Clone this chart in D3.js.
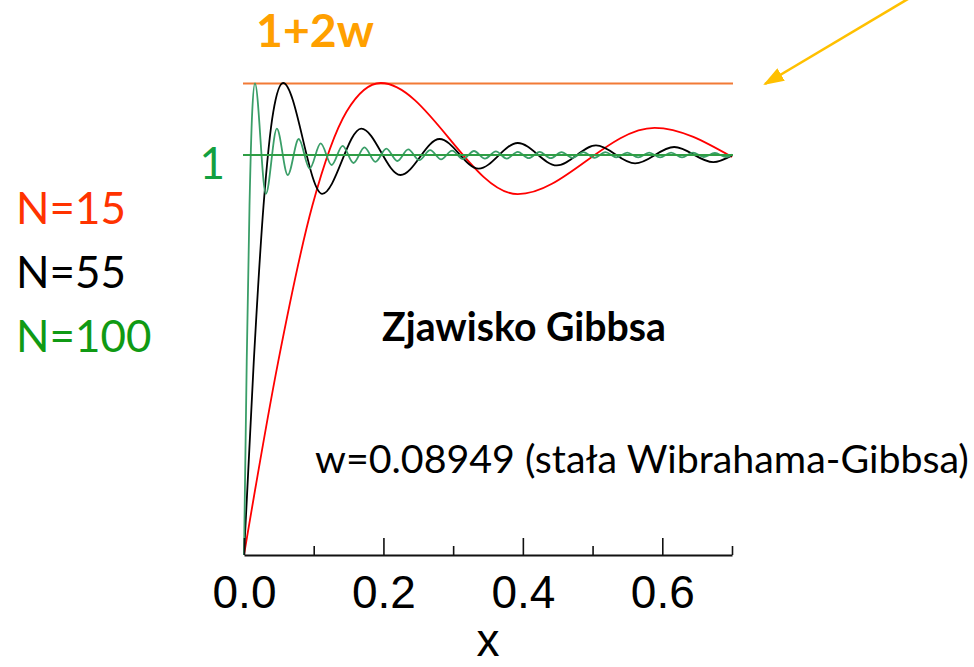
<!DOCTYPE html>
<html>
<head>
<meta charset="utf-8">
<script src="https://cdn.jsdelivr.net/npm/d3@7"></script>
<style>
  html, body { margin: 0; padding: 0; background: #fff; }
  svg { display: block; }
</style>
</head>
<body>
<svg id="chart" width="974" height="667"></svg>
<script>
// Partial Fourier sums of a square wave near the jump (Gibbs phenomenon).
// Points are the start of the rise and the successive extrema of each sum.
const xN15  = [0, 0.049, 0.098, 0.147, 0.1963, 0.3927, 0.5890, 0.7000];
const yN15  = [0, 0.483, 0.873, 1.108, 1.180, 0.902, 1.068, 0.995];

const xN55  = [0, 0.014, 0.028, 0.042, 0.0561, 0.1122, 0.1683, 0.2244, 0.2805, 0.3366,
               0.3927, 0.4488, 0.5049, 0.5610, 0.6171, 0.6732, 0.7000];
const yN55  = [0, 0.483, 0.873, 1.108, 1.180, 0.903, 1.066, 0.950, 1.040, 0.966,
               1.030, 0.974, 1.024, 0.979, 1.020, 0.982, 0.999];

const xN100 = [0, 0.0039, 0.0079, 0.0118, 0.0157, 0.0314, 0.0471, 0.0628, 0.0785, 0.0942,
               0.1100, 0.1257, 0.1414, 0.1571, 0.1728, 0.1885, 0.2042, 0.2199, 0.2356, 0.2513,
               0.2670, 0.2827, 0.2985, 0.3142, 0.3299, 0.3456, 0.3613, 0.3770, 0.3927, 0.4084,
               0.4241, 0.4398, 0.4555, 0.4712, 0.4869, 0.5027, 0.5184, 0.5341, 0.5498, 0.5655,
               0.5812, 0.5969, 0.6126, 0.6283, 0.6440, 0.6597, 0.6754, 0.6912, 0.7000];
const yN100 = [0, 0.483, 0.873, 1.108, 1.179, 0.903, 1.066, 0.950, 1.040, 0.966,
               1.029, 0.975, 1.023, 0.980, 1.019, 0.983, 1.016, 0.985, 1.014, 0.987,
               1.012, 0.989, 1.011, 0.990, 1.010, 0.991, 1.009, 0.991, 1.008, 0.992,
               1.008, 0.992, 1.007, 0.993, 1.007, 0.993, 1.007, 0.994, 1.006, 0.994,
               1.006, 0.994, 1.006, 0.994, 1.006, 0.995, 1.005, 0.995, 1.001];

const w = 0.08949;                       // Wilbraham–Gibbs constant
const refLevels = [1, 1 + 2 * w];        // limit and overshoot level
const xTicks = [0, 0.1, 0.2, 0.3, 0.4, 0.5, 0.6, 0.7];
const xTickLabels = ["0.0", "", "0.2", "", "0.4", "", "0.6", ""];
const legendLabels = ["N=15", "N=55", "N=100"];

const svg = d3.select("#chart");

const x = d3.scaleLinear().domain([0, 0.7]).range([244, 732]);
const y = d3.scaleLinear().domain([0, 1]).range([555, 155]);

const CAL = "Lato, 'Open Sans', sans-serif";
const ARIAL = "'Liberation Sans', Arial, sans-serif";

// overshoot level
svg.append("line")
  .attr("x1", x(0) - 1).attr("x2", x(0.7) + 1)
  .attr("y1", y(refLevels[1])).attr("y2", y(refLevels[1]))
  .attr("stroke", "#f27a36").attr("stroke-width", 2);

// curves
const line = d3.line().x(d => x(d[0])).y(d => y(d[1])).curve(d3.curveMonotoneX);
const series = [
  { xs: xN15,  ys: yN15,  color: "#ff0000" },
  { xs: xN55,  ys: yN55,  color: "#000000" },
  { xs: xN100, ys: yN100, color: "#3a9e68" }
];
series.forEach(s => {
  svg.append("path")
    .datum(s.xs.map((v, i) => [v, s.ys[i]]))
    .attr("d", line)
    .attr("fill", "none")
    .attr("stroke", s.color)
    .attr("stroke-width", 1.8)
    .attr("stroke-linejoin", "round");
});

// limit level
svg.append("line")
  .attr("x1", x(0) - 1).attr("x2", x(0.7) + 1)
  .attr("y1", y(refLevels[0])).attr("y2", y(refLevels[0]))
  .attr("stroke", "#2f9e45").attr("stroke-width", 2);

// x axis with inward ticks
const axis = d3.axisBottom(x)
  .tickValues(xTicks)
  .tickSizeInner(-9)
  .tickSizeOuter(0)
  .tickFormat((d, i) => xTickLabels[i]);

const gx = svg.append("g")
  .attr("transform", `translate(0,${y(0)})`)
  .call(axis);
gx.select(".domain").attr("stroke", "#111").attr("stroke-width", 2);
gx.selectAll(".tick line")
  .attr("stroke", "#111").attr("stroke-width", 1.6)
  .attr("y2", (d, i) => xTickLabels[i] ? -17 : -9);
gx.selectAll(".tick text")
  .attr("y", 53).attr("dy", 0)
  .attr("fill", "#000")
  .style("font-family", ARIAL)
  .style("font-size", "46px");

svg.append("text")
  .attr("x", x(0.35)).attr("y", 656)
  .attr("text-anchor", "middle")
  .style("font-family", ARIAL).style("font-size", "46px")
  .text("x");

// scale a text element's font so that it spans the given width
function fitWidth(sel, width) {
  const bw = sel.node().getBBox().width;
  const fs = parseFloat(sel.style("font-size"));
  const nfs = fs * width / bw;
  sel.style("font-size", nfs + "px");
  return nfs;
}

// overshoot label
const overshootLabel = svg.append("text")
  .attr("x", 256).attr("y", 47)
  .style("font-family", CAL).style("font-weight", "bold").style("font-size", "44px")
  .attr("fill", "#ffa000")
  .text("1+2w");
fitWidth(overshootLabel, 118);

// level label
const levelLabel = svg.append("text")
  .attr("x", 225).attr("y", 179)
  .attr("text-anchor", "end")
  .style("font-family", CAL).style("font-size", "44px")
  .attr("fill", "#12a040")
  .text("1");

// legend labels
const legendColors = ["#ff3300", "#000000", "#109a14"];
const legendY = [224, 288, 352];
let legendSize = 44;
legendLabels.forEach((t, i) => {
  const el = svg.append("text")
    .attr("x", 16).attr("y", legendY[i])
    .style("font-family", CAL).style("font-size", "44px")
    .attr("fill", legendColors[i])
    .text(t);
  if (i === 0) legendSize = fitWidth(el, 110);
  else el.style("font-size", legendSize + "px");
});
levelLabel.style("font-size", legendSize + "px");

// captions
const title = svg.append("text")
  .attr("x", 382).attr("y", 341)
  .style("font-family", CAL).style("font-weight", "bold").style("font-size", "30px")
  .text("Zjawisko Gibbsa");
fitWidth(title, 284);

const note = svg.append("text")
  .attr("x", 315).attr("y", 473)
  .style("font-family", CAL).style("font-size", "26px")
  .text("w=0.08949 (stała Wibrahama-Gibbsa)");
fitWidth(note, 654);

// pointer arrow towards the overshoot level
const defs = svg.append("defs");
defs.append("marker")
  .attr("id", "head")
  .attr("viewBox", "0 0 20 14")
  .attr("refX", 18).attr("refY", 7)
  .attr("markerWidth", 8).attr("markerHeight", 5.6)
  .attr("markerUnits", "strokeWidth")
  .attr("orient", "auto")
  .append("path").attr("d", "M0,0L20,7L0,14Z").attr("fill", "#ffc000");

svg.append("line")
  .attr("x1", 960).attr("y1", -32)
  .attr("x2", 765).attr("y2", 84)
  .attr("stroke", "#ffc000").attr("stroke-width", 2.6)
  .attr("marker-end", "url(#head)");
</script>
</body>
</html>
